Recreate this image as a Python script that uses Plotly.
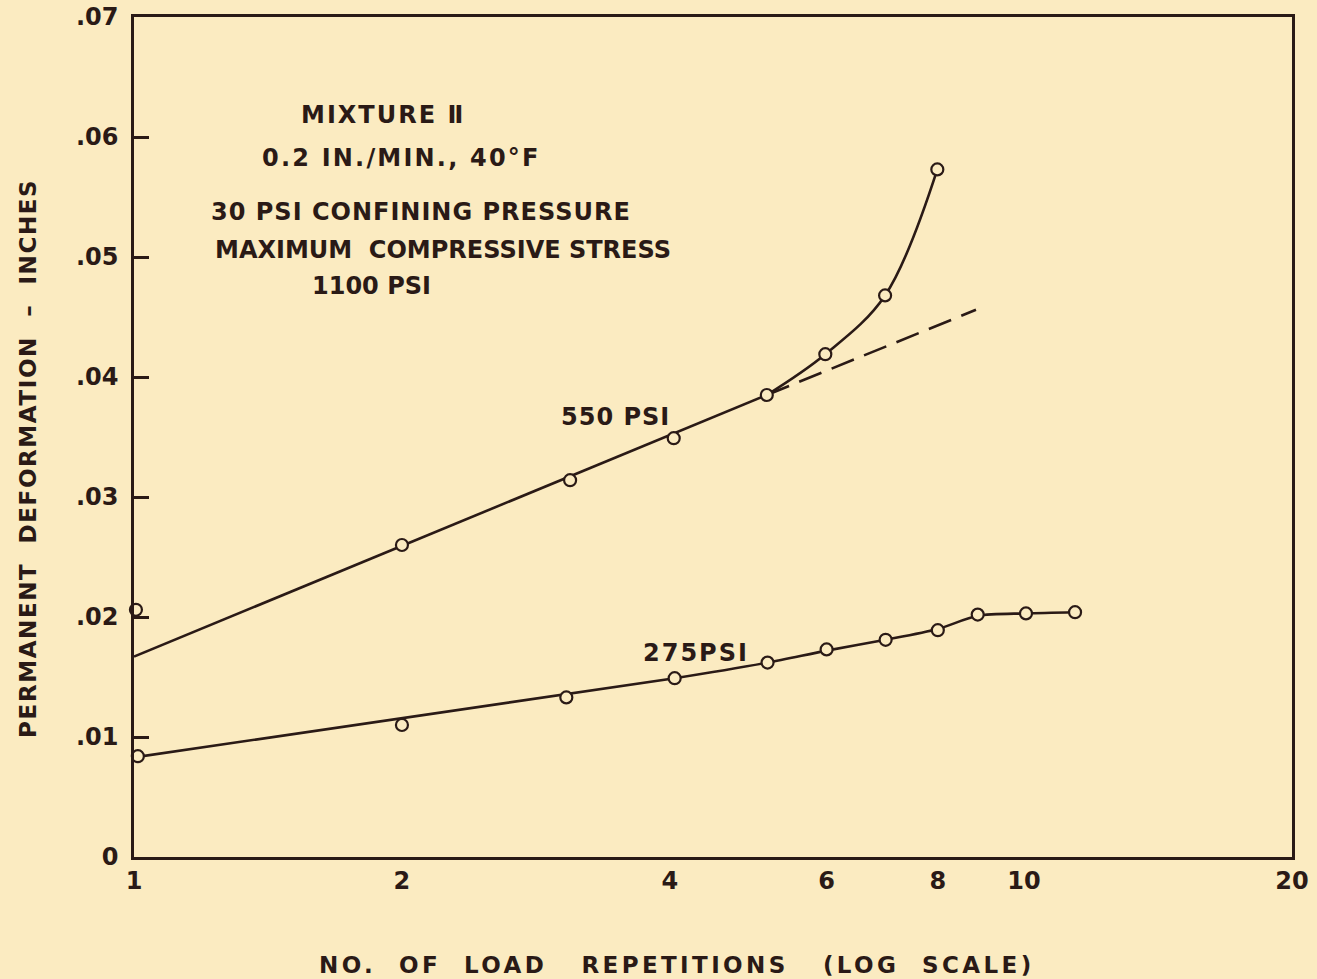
import plotly.graph_objects as go

# Measured points: permanent deformation (in.) vs. number of load repetitions
reps_550 = [1.005, 2.0, 3.09, 4.04, 5.14, 5.98, 6.98, 7.99]
defo_550 = [0.0206, 0.0260, 0.0314, 0.0349, 0.0385, 0.0419, 0.0468, 0.0573]

reps_275 = [1.01, 2.0, 3.06, 4.05, 5.15, 6.0, 6.99, 8.0, 8.87, 10.05, 11.41]
defo_275 = [0.0084, 0.0110, 0.0133, 0.0149, 0.0162, 0.0173, 0.0181, 0.0189, 0.0202, 0.0203, 0.0204]

# Fitted trend lines
fit_550_x = [1.0, 5.14]
fit_550_y = [0.0167, 0.0385]
curve_550_x = [5.14, 5.98, 6.98, 7.99]
curve_550_y = [0.0385, 0.0419, 0.0468, 0.0573]
extrap_550_x = [5.14, 8.83]
extrap_550_y = [0.0385, 0.0456]

fit_275_x = [1.0, 4.05, 5.15, 6.0, 6.99, 8.0, 8.87, 10.05, 11.41]
fit_275_y = [0.0083, 0.0149, 0.0162, 0.0172, 0.0181, 0.0190, 0.0201, 0.0203, 0.0204]

x_ticks = [1, 2, 4, 6, 8, 10, 20]
x_tick_text = ["1", "2", "4", "6", "8", "10", "20"]
y_ticks = [0, 0.01, 0.02, 0.03, 0.04, 0.05, 0.06, 0.07]
y_tick_text = ["0", ".01", ".02", ".03", ".04", ".05", ".06", ".07"]

INK = "#2a1a16"
PAPER = "#fbebc1"
FONT = "DejaVu Sans"
LW = 2.6

fig = go.Figure()

fig.add_trace(go.Scatter(x=fit_550_x, y=fit_550_y, mode="lines",
                         line=dict(color=INK, width=LW)))
fig.add_trace(go.Scatter(x=curve_550_x, y=curve_550_y, mode="lines",
                         line=dict(color=INK, width=LW, shape="spline", smoothing=1.0)))
fig.add_trace(go.Scatter(x=extrap_550_x, y=extrap_550_y, mode="lines",
                         line=dict(color=INK, width=LW, dash="24px,11px")))
fig.add_trace(go.Scatter(x=fit_275_x, y=fit_275_y, mode="lines",
                         line=dict(color=INK, width=LW, shape="spline", smoothing=0.8)))

marker_style = dict(symbol="circle", size=12, color=PAPER, line=dict(color=INK, width=2.2))
fig.add_trace(go.Scatter(x=reps_550, y=defo_550, mode="markers", marker=marker_style,
                         cliponaxis=False))
fig.add_trace(go.Scatter(x=reps_275, y=defo_275, mode="markers", marker=marker_style,
                         cliponaxis=False))


def note(text, x, y, size=24, angle=0, spacing=0):
    if spacing:
        text = f'<span style="letter-spacing:{spacing}px">{text}</span>'
    fig.add_annotation(text=text, x=x, y=y, xref="paper", yref="paper",
                       showarrow=False, textangle=angle,
                       font=dict(family=FONT, size=size, color=INK, weight="bold"),
                       xanchor="center", yanchor="middle")


note("MIXTURE Ⅱ", 0.215, 0.883, spacing=2)
note("0.2 IN./MIN., 40°F", 0.2306, 0.832, spacing=2.2)
note("30 PSI CONFINING PRESSURE", 0.2478, 0.768, spacing=1)
note("MAXIMUM  COMPRESSIVE STRESS", 0.2668, 0.7226)
note("1100 PSI", 0.2055, 0.680)
note("550 PSI", 0.4162, 0.5238, spacing=1)
note("275PSI", 0.4853, 0.2429, spacing=2)

note("PERMANENT  DEFORMATION  –  INCHES", -0.0915, 0.474, size=23, angle=-90, spacing=1.6)
note("NO.  OF  LOAD   REPETITIONS   (LOG  SCALE)", 0.469, -0.1286, size=23, spacing=3.4)

fig.update_layout(
    width=1317, height=979, autosize=False,
    margin=dict(l=134, r=25, t=17, b=122),
    paper_bgcolor=PAPER, plot_bgcolor=PAPER,
    showlegend=False,
    font=dict(family=FONT, size=23, color=INK),
)

fig.update_xaxes(
    type="log", range=[0, 1.30103], automargin=False,
    tickvals=x_ticks, ticktext=x_tick_text,
    showgrid=False, zeroline=False,
    showline=True, linecolor=INK, linewidth=2.5, mirror=True,
    ticks="", ticklabelstandoff=0,
    tickfont=dict(family=FONT, size=24, color=INK, weight="bold"),
)
fig.update_yaxes(
    range=[0, 0.07], automargin=False,
    tickvals=y_ticks, ticktext=y_tick_text,
    showgrid=False, zeroline=False,
    showline=True, linecolor=INK, linewidth=2.5, mirror=True,
    ticks="inside", ticklen=15, tickwidth=2.5, tickcolor=INK,
    ticklabelstandoff=8,
    tickfont=dict(family=FONT, size=24, color=INK, weight="bold"),
)

fig.write_html("out.html")
